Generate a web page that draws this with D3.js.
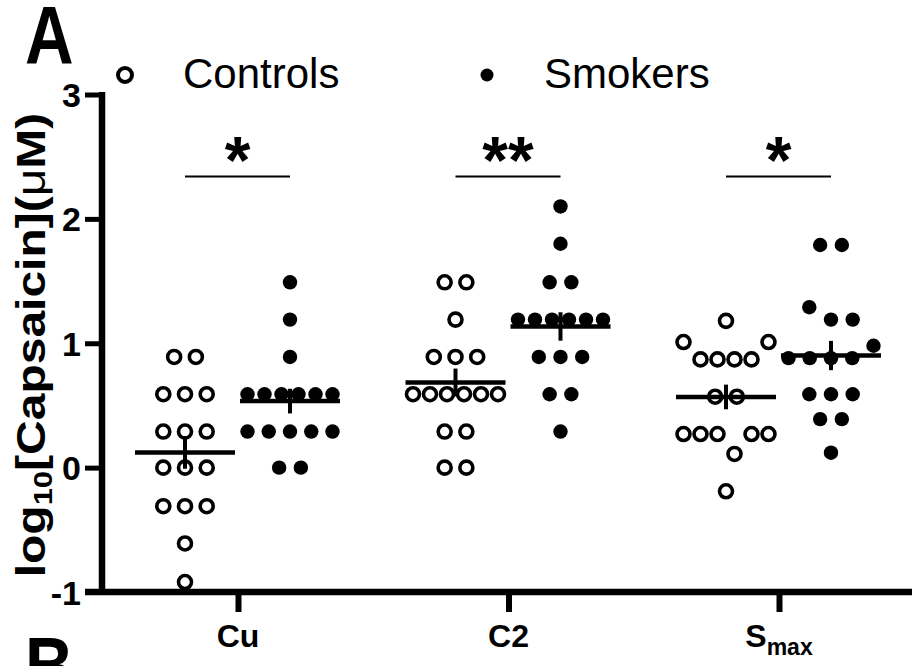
<!DOCTYPE html>
<html>
<head>
<meta charset="utf-8">
<script src="https://cdn.jsdelivr.net/npm/d3@7/dist/d3.min.js"></script>
<style>
  body { margin: 0; background: #fff; }
  svg { display: block; }
</style>
</head>
<body>
<svg id="chart" width="912" height="666"></svg>
<script>
// ---- data: log10 capsaicin threshold concentrations (µM) per subject ----
const categories = ["Cu", "C2", "Smax"];
const groups = ["Controls", "Smokers"];

const controlsCu   = [0.89, 0.89, 0.59, 0.59, 0.59, 0.29, 0.29, 0.29, 0, 0, 0, -0.31, -0.31, -0.31, -0.61, -0.92];
const smokersCu    = [1.49, 1.19, 0.89, 0.59, 0.59, 0.59, 0.59, 0.59, 0.59, 0.29, 0.29, 0.29, 0.29, 0.29, 0, 0];
const controlsC2   = [1.49, 1.49, 1.19, 0.89, 0.89, 0.89, 0.59, 0.59, 0.59, 0.59, 0.59, 0.59, 0.29, 0.29, 0, 0];
const smokersC2    = [2.10, 1.80, 1.49, 1.49, 1.19, 1.19, 1.19, 1.19, 1.19, 1.19, 0.89, 0.89, 0.89, 0.59, 0.59, 0.29];
const controlsSmax = [1.18, 1.01, 0.87, 0.87, 0.87, 0.87, 1.01, 0.57, 0.57, 0.27, 0.27, 0.27, 0.11, 0.27, 0.27, -0.19];
const smokersSmax  = [1.79, 1.79, 1.29, 1.19, 1.19, 0.88, 0.88, 0.88, 0.88, 0.98, 0.59, 0.59, 0.59, 0.39, 0.39, 0.12];

const seriesValues = {
  Cu:   { Controls: controlsCu,   Smokers: smokersCu },
  C2:   { Controls: controlsC2,   Smokers: smokersC2 },
  Smax: { Controls: controlsSmax, Smokers: smokersSmax }
};

const yTicks = [-1, 0, 1, 2, 3];
const significance = ["*", "**", "*"];
const sigLevel = 2.34;

// ---- layout ----
const W = 912, H = 666;
const SQ = 0.83;             // horizontal condensing used for the panel letters and y title
const FONT = "'Liberation Sans', Arial, sans-serif";

const svg = d3.select("#chart");
svg.append("rect").attr("width", W).attr("height", H).attr("fill", "#fff");

const y = d3.scaleLinear().domain([-1, 3]).range([592, 94.5]);
const x = d3.scalePoint().domain(categories).range([238, 779]);
const xGroup = d3.scalePoint().domain(groups).range([-53, 52]);

const axisX0 = 102;

// scatter column layout: values within one bin share a row, spread in slots
const slot = 21.7, maxSpan = 85, binTol = 0.165;
function columnOffsets(values) {
  const order = values.map((v, i) => i).sort((a, b) => values[b] - values[a] || a - b);
  const bins = [];
  let cur = null;
  order.forEach(i => {
    if (!cur || values[cur.top] - values[i] >= binTol) {
      cur = { top: i, members: [] };
      bins.push(cur);
    }
    cur.members.push(i);
  });
  const off = new Array(values.length).fill(0);
  bins.forEach(b => {
    b.members.sort((a, c) => a - c);
    const n = b.members.length;
    const s = n > 1 ? Math.min(slot, maxSpan / (n - 1)) : 0;
    b.members.forEach((i, k) => { off[i] = (k - (n - 1) / 2) * s; });
  });
  return off;
}

function mean(a) { return d3.mean(a); }
function sem(a) { return d3.deviation(a) / Math.sqrt(a.length); }

// ---- axes ----
const yAxis = d3.axisLeft(y).tickValues(yTicks).tickSize(17).tickSizeOuter(0).tickFormat(d => String(d));
const gy = svg.append("g").attr("transform", `translate(${axisX0},0)`).call(yAxis);
gy.select(".domain").remove();
gy.selectAll(".tick line").attr("stroke", "#000").attr("stroke-width", 5);
gy.selectAll(".tick text")
  .attr("x", -21).attr("dy", null).attr("y", 12)
  .attr("font-family", FONT).attr("font-weight", "bold").attr("font-size", 34)
  .attr("fill", "#000").attr("text-anchor", "end");

// axis lines
svg.append("line").attr("x1", axisX0).attr("x2", axisX0)
  .attr("y1", y(3) - 2.5).attr("y2", y(-1))
  .attr("stroke", "#000").attr("stroke-width", 6.5);
svg.append("line").attr("x1", axisX0 - 17).attr("x2", W)
  .attr("y1", y(-1)).attr("y2", y(-1))
  .attr("stroke", "#000").attr("stroke-width", 6.5);

const xAxis = d3.axisBottom(x).tickSize(20).tickSizeOuter(0).tickFormat("");
const gx = svg.append("g").attr("transform", `translate(0,${y(-1)})`).call(xAxis);
gx.select(".domain").remove();
gx.selectAll(".tick line").attr("stroke", "#000").attr("stroke-width", 6);

// category labels
categories.forEach(c => {
  const t = svg.append("text")
    .attr("x", x(c)).attr("y", 647)
    .attr("text-anchor", "middle")
    .attr("font-family", FONT).attr("font-weight", "bold").attr("font-size", 32)
    .attr("fill", "#000");
  if (c === "Smax") {
    t.append("tspan").text("S");
    t.append("tspan").attr("font-size", 23).attr("dy", 8).text("max");
  } else {
    t.text(c);
  }
});

// y-axis title
const yt = svg.append("text")
  .attr("transform", `translate(45,345) scale(${SQ},1) rotate(-90)`)
  .attr("text-anchor", "middle")
  .attr("font-family", FONT).attr("font-weight", "bold").attr("font-size", 48)
  .attr("fill", "#000");
yt.append("tspan").text("log");
yt.append("tspan").attr("font-size", 31).attr("dy", 9).text("10");
yt.append("tspan").attr("dy", -9).text("[Capsaicin](");
yt.append("tspan").attr("font-weight", "normal").text("\u03BC");
yt.append("tspan").text("M)");

// ---- points, means, SEM ----
categories.forEach(c => {
  groups.forEach(g => {
    const vals = seriesValues[c][g];
    const cx = x(c) + xGroup(g);
    const off = columnOffsets(vals);
    const pts = vals.map((v, i) => ({ v, dx: off[i] }));
    const open = g === "Controls";
    svg.append("g").selectAll("circle").data(pts).join("circle")
      .attr("cx", d => cx + d.dx)
      .attr("cy", d => y(d.v))
      .attr("r", open ? 6.5 : 7.2)
      .attr("fill", open ? "none" : "#000")
      .attr("stroke", open ? "#000" : "none")
      .attr("stroke-width", open ? 3.6 : 0);
  });
});

categories.forEach(c => {
  groups.forEach(g => {
    const vals = seriesValues[c][g];
    const cx = x(c) + xGroup(g);
    const m = mean(vals), e = sem(vals);
    svg.append("line").attr("x1", cx - 50).attr("x2", cx + 50)
      .attr("y1", y(m)).attr("y2", y(m))
      .attr("stroke", "#000").attr("stroke-width", 4.5);
    svg.append("line").attr("x1", cx).attr("x2", cx)
      .attr("y1", y(m - e)).attr("y2", y(m + e))
      .attr("stroke", "#000").attr("stroke-width", 4);
  });
});

// significance bars
categories.forEach((c, i) => {
  const x1 = x(c) + xGroup("Controls"), x2 = x(c) + xGroup("Smokers");
  svg.append("line").attr("x1", x1).attr("x2", x2)
    .attr("y1", y(sigLevel)).attr("y2", y(sigLevel))
    .attr("stroke", "#000").attr("stroke-width", 2);
  svg.append("text")
    .attr("x", (x1 + x2) / 2).attr("y", 183)
    .attr("text-anchor", "middle")
    .attr("font-family", FONT).attr("font-weight", "bold").attr("font-size", 66)
    .attr("fill", "#000").text(significance[i]);
});

// ---- legend ----
const legend = svg.append("g");
legend.append("circle").attr("cx", 125).attr("cy", 75).attr("r", 7)
  .attr("fill", "none").attr("stroke", "#000").attr("stroke-width", 4);
legend.append("text").attr("x", 183).attr("y", 88)
  .attr("font-family", FONT).attr("font-size", 42).attr("fill", "#000").text(groups[0]);
legend.append("circle").attr("cx", 487).attr("cy", 75).attr("r", 6.5).attr("fill", "#000");
legend.append("text").attr("x", 544).attr("y", 88)
  .attr("font-family", FONT).attr("font-size", 42).attr("fill", "#000").text(groups[1]);

// ---- panel letters ----
svg.append("text").attr("transform", `translate(25,63) scale(${SQ},1)`)
  .attr("font-family", FONT).attr("font-weight", "bold").attr("font-size", 81)
  .attr("fill", "#000").text("A");
svg.append("text").attr("transform", `translate(25,694) scale(${SQ},1)`)
  .attr("font-family", FONT).attr("font-weight", "bold").attr("font-size", 81)
  .attr("fill", "#000").text("B");
</script>
</body>
</html>
